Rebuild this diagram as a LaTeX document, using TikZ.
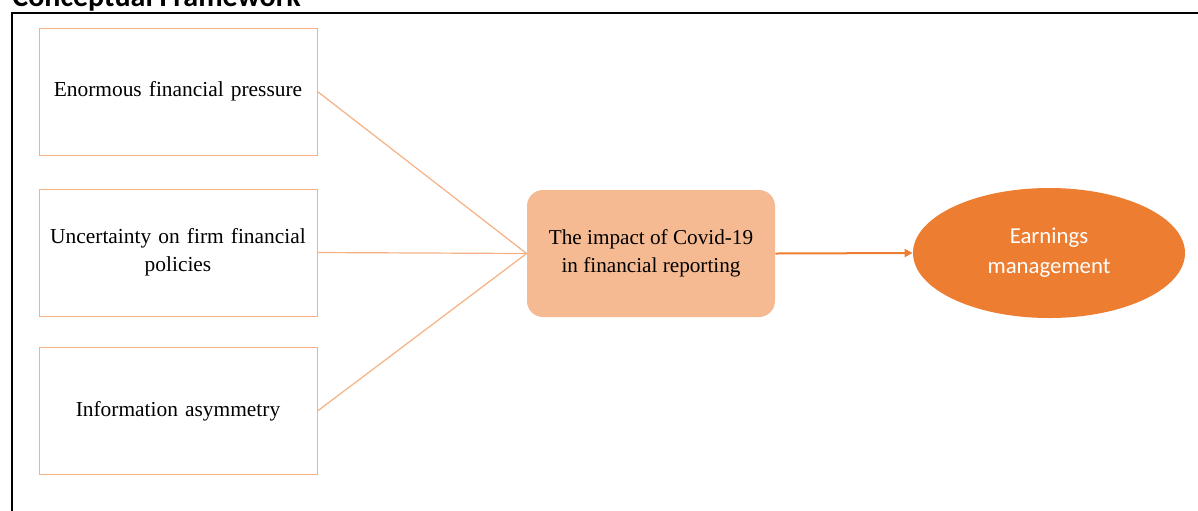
\documentclass[tikz,border=0pt]{standalone}
\usepackage{fontspec}
\setmainfont{Liberation Serif}
\newfontfamily\calibrifont{Carlito}
\usetikzlibrary{shapes.geometric, arrows.meta}

\definecolor{lightorange}{HTML}{F4B183}
\definecolor{paleorange}{HTML}{F5BA92}
\definecolor{darkorange}{HTML}{ED7D31}

\begin{document}
\begin{tikzpicture}[x=0.5pt, y=-0.5pt]
\tikzstyle{factor} = [rectangle, draw=lightorange, line width=0.5pt, minimum width=139pt, minimum height=63.5pt, align=center, text width=132pt, font=\fontsize{10.7}{14}\selectfont]
\tikzstyle{impact} = [rectangle, rounded corners=8pt, fill=paleorange, minimum width=124pt, minimum height=63.5pt, align=center, font=\fontsize{10.6}{14}\selectfont]
\tikzstyle{result} = [ellipse, fill=darkorange, minimum width=136pt, minimum height=65pt, inner sep=0pt, align=center, text=white, font=\calibrifont\fontsize{11.4}{15}\selectfont]
\tikzstyle{link} = [draw=lightorange, line width=0.6pt]
\tikzstyle{edge} = [draw=darkorange, line width=1pt, -{Triangle[length=4pt,width=4pt]}]

\useasboundingbox (0,0) rectangle (1198,510);

% Рамка и заголовок
\draw[line width=1.2pt] (12,540) -- (12,13) -- (1230,13);
\node[anchor=base west, inner sep=0pt, font=\calibrifont\bfseries\fontsize{15}{18}\selectfont] (title) at (12,6) {Conceptual Framework};

% Факторы
\node[factor] (f1) at (178,91.5) {\raisebox{-3pt}{Enormous financial pressure}};
\node[factor] (f2) at (178,252.5) {Uncertainty on firm financial\\policies};
\node[factor] (f3) at (178,411) {Information asymmetry};

% Центральный блок и результат
\node[impact] (covid) at (651,253.5) {The impact of Covid-19\\in financial reporting};
\node[result] (em) at (1049,253) {Earnings\\management};

% Связи
\draw[link] (f1.east) -- (covid.west);
\draw[link] (f2.east) -- (covid.west);
\draw[link] (f3.east) -- (covid.west);
\draw[edge] (covid.east) -- (em.west);

\end{tikzpicture}
\end{document}
